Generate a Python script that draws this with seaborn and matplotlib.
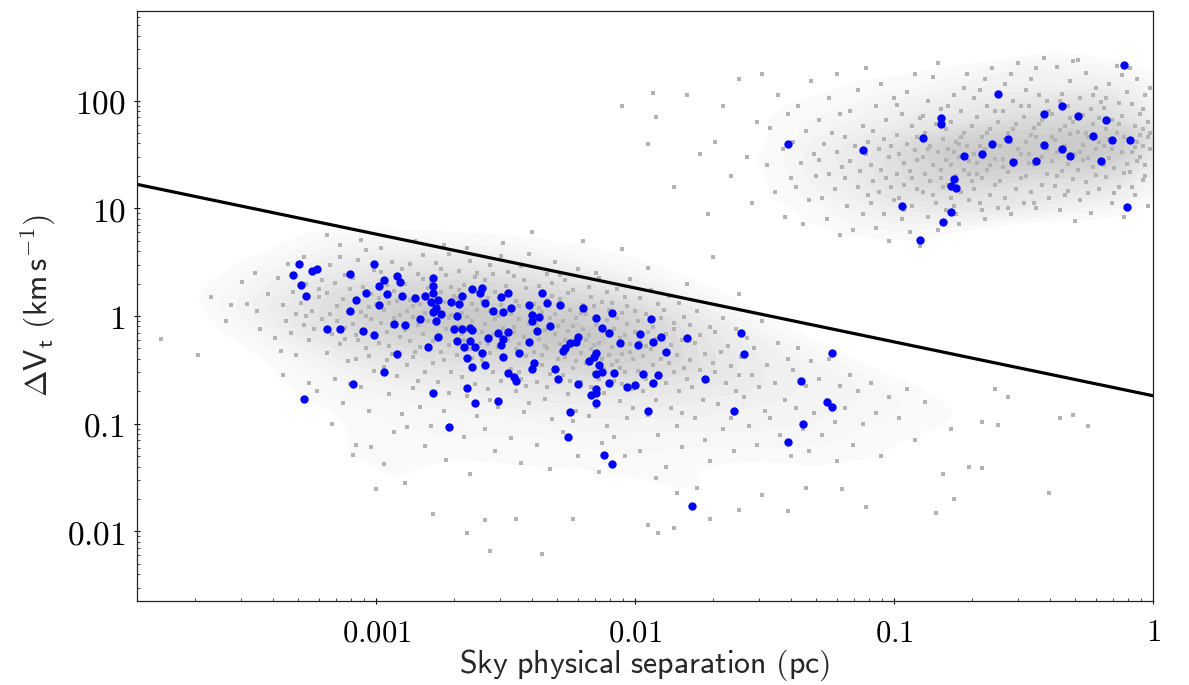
import numpy as np
import pandas as pd
import matplotlib
matplotlib.use("Agg")
import matplotlib.pyplot as plt
from matplotlib.colors import LinearSegmentedColormap
from matplotlib.ticker import FixedLocator, FixedFormatter, LogLocator, NullFormatter
import seaborn as sns

sns.set_theme(style="ticks")
plt.rcParams["mathtext.fontset"] = "cm"
plt.rcParams["font.family"] = ["DejaVu Sans"]

# all values, stored as log10(separation / pc), log10(dV_t / km s^-1)
blue_pts = """
-3.30,0.48 -3.32,0.38 -3.29,0.29 -3.25,0.42 -3.23,0.44 -3.27,0.19 -3.10,0.39 -3.01,0.48
-2.99,0.28 -2.97,0.33 -3.04,0.21 -3.08,0.15 -2.96,0.20 -3.10,0.05 -2.99,0.10 -2.92,0.37
-2.91,0.32 -2.93,-0.07 -3.19,-0.12 -3.14,-0.12 -3.05,-0.14 -3.01,-0.18 -2.92,-0.35 -2.97,-0.52
-3.09,-0.63 -3.28,-0.77 -2.90,0.19 -2.89,-0.08 -2.85,0.17 -2.83,-0.03 -2.81,0.19 -2.78,0.35
-2.78,0.28 -2.78,0.21 -2.79,0.13 -2.76,0.15 -2.77,0.07 -2.78,0.04 -2.75,0.02 -2.77,-0.05
-2.76,-0.19 -2.80,-0.29 -2.78,-0.71 -2.72,-1.03 -2.71,0.13 -2.68,0.11 -2.67,0.19 -2.63,0.25
-2.69,0.00 -2.70,-0.12 -2.67,-0.12 -2.64,-0.11 -2.63,-0.13 -2.69,-0.23 -2.64,-0.23 -2.66,-0.29
-2.62,-0.29 -2.65,-0.39 -2.63,-0.47 -2.65,-0.67 -2.62,-0.81 -2.59,0.26 -2.60,0.21 -2.58,0.12
-2.55,0.05 -2.52,0.18 -2.49,0.21 -2.51,0.04 -2.48,0.07 -2.53,-0.16 -2.49,-0.15 -2.57,-0.20
-2.51,-0.21 -2.52,-0.27 -2.59,-0.34 -2.58,-0.45 -2.51,-0.38 -2.45,-0.34 -2.49,-0.53 -2.47,-0.57
-2.46,-0.60 -2.53,-0.79 -2.36,0.21 -2.34,0.12 -2.41,0.10 -2.29,0.10 -2.40,0.01 -2.37,-0.01
-2.40,-0.05 -2.33,-0.09 -2.38,-0.14 -2.41,-0.24 -2.39,-0.44 -2.40,-0.49 -2.31,-0.49 -2.30,-0.58
-2.22,-0.19 -2.23,-0.24 -2.25,-0.25 -2.27,-0.30 -2.28,-0.32 -2.20,0.07 -2.15,-0.02 -2.13,-0.11
-2.10,-0.16 -2.09,0.03 -2.15,-0.34 -2.16,-0.38 -2.18,-0.42 -2.14,-0.45 -2.13,-0.52 -2.15,-0.54
-2.08,-0.53 -2.10,-0.62 -2.22,-0.63 -2.15,-0.68 -2.17,-0.73 -2.15,-0.71 -2.15,-0.81 -2.25,-0.89
-2.26,-1.12 -2.06,-0.25 -1.94,-0.03 -1.98,-0.17 -1.99,-0.27 -1.93,-0.24 -1.90,-0.19 -1.88,-0.33
-1.97,-0.54 -1.91,-0.55 -1.93,-0.62 -2.03,-0.66 -2.00,-0.64 -1.95,-0.88 -1.80,-0.20 -1.73,-0.58
-1.59,-0.16 -1.58,-0.35 -1.62,-0.88 -1.78,-1.76 -1.24,-0.34 -1.36,-0.60 -1.26,-0.80 -1.24,-0.84
-1.35,-1.00 -1.41,-1.17 -2.12,-1.29 -2.09,-1.37
-1.41,1.60 -1.12,1.54 -0.97,1.02 -0.90,0.71 -0.81,0.87 -0.78,0.97 -0.77,1.27 -0.78,1.21
-0.76,1.19 -0.89,1.65 -0.82,1.84 -0.82,1.78 -0.73,1.49 -0.66,1.50 -0.62,1.60 -0.60,2.06
-0.56,1.64 -0.54,1.43 -0.45,1.44 -0.42,1.59 -0.42,1.88 -0.35,1.95 -0.35,1.55 -0.32,1.49
-0.29,1.86 -0.23,1.67 -0.20,1.44 -0.18,1.82 -0.16,1.63 -0.11,2.33 -0.09,1.63 -0.10,1.01
"""

grey_low_pts = """
-3.83,-0.21 -3.69,-0.36 -3.64,0.18 -3.56,0.10 -3.50,0.11 -3.47,0.40 -3.42,0.20 -3.39,-0.20
-3.33,-0.16 -3.19,0.75 -3.58,-0.05 -3.52,0.32 -3.45,-0.12 -3.46,0.05 -3.23,-0.70 -3.31,-0.36
-3.38,0.35 -3.36,0.10 -3.35,-0.05 -3.37,-0.32 -3.32,0.22 -3.34,0.48 -3.31,0.02 -3.36,-0.55
-3.29,0.12 -3.28,-0.08 -3.27,0.30 -3.26,-0.22 -3.25,0.05 -3.24,0.41 -3.22,0.18 -3.21,-0.03
-3.28,0.55 -3.26,-0.62 -3.24,-0.12 -3.22,0.25 -3.27,0.00 -3.21,0.33
-3.19,0.21 -3.19,-0.34 -3.18,0.02 -3.18,0.47 -3.17,-0.17 -3.16,0.31 -3.16,-0.58 -3.15,0.09
-3.15,-0.05 -3.14,0.55 -3.14,-0.26 -3.13,0.16 -3.13,-0.81 -3.12,-0.11 -3.12,0.38 -3.11,-0.42
-3.11,0.04 -3.10,0.25 -3.17,-1.00 -3.14,0.66 -3.12,-0.21 -3.10,-0.63
-3.09,-0.07 -3.09,0.35 -3.08,-0.40 -3.08,0.13 -3.07,0.52 -3.07,-0.22 -3.06,0.04 -3.06,-0.66
-3.05,0.27 -3.05,-0.13 -3.04,0.61 -3.04,-0.30 -3.03,0.08 -3.03,-0.88 -3.02,0.20 -3.02,-0.03
-3.01,0.43 -3.01,-0.51 -3.00,0.11 -3.09,-1.29 -3.02,-1.22 -3.08,-0.18 -3.06,0.71 -3.04,0.00
-3.03,-0.37 -3.08,-1.20
-2.99,0.17 -2.99,-0.25 -2.98,0.41 -2.98,-0.06 -2.97,-0.47 -2.97,0.06 -2.96,0.29 -2.96,-0.15
-2.95,-0.72 -2.95,0.12 -2.94,0.50 -2.94,-0.35 -2.93,-0.02 -2.93,0.23 -2.92,-0.56 -2.92,0.36
-2.91,-0.19 -2.91,0.01 -2.90,-0.91 -3.00,-1.61 -2.97,-1.37 -2.98,0.63 -2.96,-0.41 -2.94,-0.09
-2.93,-1.08 -2.92,0.14 -2.90,0.44 -2.95,-0.28
-2.89,-0.13 -2.89,0.30 -2.88,-0.45 -2.88,0.05 -2.87,0.48 -2.87,-0.23 -2.86,-0.01 -2.86,-0.67
-2.85,0.19 -2.85,-0.33 -2.84,0.39 -2.84,-0.08 -2.83,-0.84 -2.83,0.11 -2.82,-0.17 -2.82,0.57
-2.81,-0.52 -2.81,0.03 -2.80,0.26 -2.89,-1.55 -2.88,-1.03 -2.87,0.15 -2.86,-0.38 -2.85,0.70
-2.84,-0.60 -2.83,-0.29 -2.82,0.34 -2.81,-1.21 -2.80,-0.05 -2.86,0.09
-2.79,0.31 -2.78,-0.44 -2.78,0.07 -2.77,-0.19 -2.77,0.49 -2.76,-0.03 -2.76,-0.61 -2.75,0.22
-2.75,-0.33 -2.74,0.13 -2.74,-0.88 -2.73,0.38 -2.73,-0.12 -2.72,-0.27 -2.72,0.58 -2.71,0.01
-2.71,-0.52 -2.70,0.19 -2.79,-1.02 -2.77,-0.07 -2.75,0.44 -2.74,-0.41 -2.72,-0.71 -2.71,0.27
-2.76,0.09 -2.73,-1.34 -2.78,-0.23 -2.70,-0.15 -2.74,0.66 -2.72,-0.02
-2.69,-0.36 -2.69,0.17 -2.68,-0.09 -2.68,0.42 -2.67,-0.57 -2.67,0.03 -2.66,-0.22 -2.66,0.29
-2.65,-0.74 -2.65,-0.01 -2.64,0.51 -2.64,-0.31 -2.63,0.11 -2.63,-0.46 -2.62,-0.14 -2.62,0.36
-2.61,-0.93 -2.61,0.06 -2.60,-0.25 -2.68,0.24 -2.66,-1.12 -2.65,0.63 -2.63,-0.05 -2.62,-0.63
-2.60,0.19 -2.67,-0.17 -2.64,-1.47 -2.61,0.40 -2.69,0.02 -2.63,-0.39
-2.59,0.14 -2.59,-0.41 -2.58,-0.07 -2.58,0.33 -2.57,-0.26 -2.57,-0.68 -2.56,0.05 -2.56,0.47
-2.55,-0.18 -2.55,-0.52 -2.54,0.22 -2.54,-0.03 -2.53,-0.84 -2.53,-0.29 -2.52,0.10 -2.52,0.56
-2.51,-0.40 -2.51,-0.11 -2.50,0.28 -2.58,-1.05 -2.56,-0.34 -2.55,0.39 -2.53,0.00 -2.52,-0.60
-2.50,-0.20 -2.57,0.17 -2.54,-1.25 -2.51,0.68 -2.59,-0.15 -2.56,-0.78
-2.49,-0.22 -2.49,0.20 -2.48,-0.49 -2.48,0.02 -2.47,-0.10 -2.47,0.37 -2.46,-0.70 -2.46,-0.31
-2.45,0.09 -2.45,-0.03 -2.44,-0.58 -2.44,0.46 -2.43,-0.19 -2.43,-0.89 -2.42,0.26 -2.42,-0.37
-2.41,-0.07 -2.41,0.58 -2.40,-0.45 -2.48,-1.13 -2.46,0.14 -2.45,-0.26 -2.43,0.33 -2.42,-0.65
-2.40,0.04 -2.47,-0.15 -2.44,-1.36 -2.41,-0.81 -2.49,0.41 -2.45,-0.52
-2.39,0.11 -2.39,-0.33 -2.38,-0.08 -2.38,-0.61 -2.37,0.28 -2.37,-0.21 -2.36,-0.45 -2.36,0.04
-2.35,-0.77 -2.35,-0.13 -2.34,0.39 -2.34,-0.30 -2.33,-0.02 -2.33,-0.54 -2.32,0.19 -2.32,-0.96
-2.31,-0.17 -2.31,0.50 -2.30,-0.40 -2.38,-1.20 -2.37,0.07 -2.35,-0.28 -2.34,-0.66 -2.32,0.31
-2.30,-0.09 -2.36,-0.36 -2.33,-1.42 -2.31,0.02 -2.39,-0.50 -2.34,0.15
-2.29,-0.26 -2.29,0.16 -2.28,-0.55 -2.28,-0.05 -2.27,0.33 -2.27,-0.38 -2.26,-0.14 -2.26,-0.72
-2.25,0.06 -2.25,-0.29 -2.24,-0.48 -2.24,0.24 -2.23,-0.02 -2.23,-0.88 -2.22,-0.19 -2.22,0.44
-2.21,-0.61 -2.21,-0.34 -2.20,0.10 -2.28,-1.08 -2.27,-0.22 -2.26,0.21 -2.24,-0.97 -2.23,-0.42
-2.21,0.03 -2.25,-0.60 -2.22,-1.30 -2.20,-0.12 -2.29,0.38 -2.24,-0.09
-2.19,0.02 -2.19,-0.44 -2.18,-0.18 -2.18,0.27 -2.17,-0.66 -2.17,-0.31 -2.16,0.09 -2.16,-0.53
-2.15,-0.08 -2.15,-0.84 -2.14,0.35 -2.14,-0.25 -2.13,-0.40 -2.13,0.13 -2.12,-0.71 -2.12,-0.14
-2.11,0.22 -2.11,-1.02 -2.10,-0.36 -2.18,-0.93 -2.17,0.18 -2.16,-0.27 -2.14,-0.58 -2.13,-1.18
-2.11,-0.04 -2.15,0.40 -2.12,-0.49 -2.10,0.06 -2.19,-0.22 -2.14,-1.45
-2.09,-0.29 -2.09,0.12 -2.08,-0.60 -2.08,-0.12 -2.07,0.25 -2.07,-0.42 -2.06,-0.20 -2.06,-0.79
-2.05,0.03 -2.05,-0.35 -2.04,-0.52 -2.04,0.18 -2.03,-0.07 -2.03,-0.95 -2.02,-0.26 -2.02,0.34
-2.01,-0.68 -2.01,-0.40 -2.00,-0.15 -2.08,-1.12 -2.07,-0.02 -2.06,-0.48 -2.04,-1.30 -2.03,0.09
-2.01,-0.85 -2.05,-0.63 -2.02,-0.33 -2.00,0.05 -2.09,-0.45 -2.04,-0.18
-1.99,-0.05 -1.99,-0.51 -1.98,-0.24 -1.98,0.17 -1.97,-0.70 -1.97,-0.37 -1.96,0.02 -1.96,-0.58
-1.95,-0.15 -1.95,-0.92 -1.94,0.24 -1.94,-0.31 -1.93,-0.45 -1.93,-0.10 -1.92,-0.78 -1.92,-0.21
-1.91,0.11 -1.91,-1.10 -1.90,-0.40 -1.98,-1.25 -1.96,-0.28 -1.94,-0.63 -1.92,-1.50 -1.90,-0.02
-1.89,-0.33 -1.89,0.06 -1.88,-0.62 -1.88,-0.17 -1.87,-0.44 -1.87,0.19 -1.86,-0.27 -1.86,-0.85
-1.85,-0.06 -1.85,-0.52 -1.84,-1.02 -1.84,-0.36 -1.83,0.12 -1.83,-0.70 -1.82,-0.22 -1.82,-1.22
-1.81,-0.48 -1.81,-0.01 -1.80,-0.58 -1.88,-1.40 -1.85,-0.12 -1.82,-0.90
-1.79,-0.41 -1.79,-0.08 -1.78,-0.66 -1.77,-0.25 -1.77,-0.95 -1.76,0.05 -1.75,-0.50 -1.75,-0.18
-1.74,-0.78 -1.73,-0.35 -1.73,-1.15 -1.72,-0.60 -1.71,-0.10 -1.71,-1.35 -1.70,-0.44 -1.76,-1.60
-1.69,-0.52 -1.69,-0.15 -1.68,-0.82 -1.67,-0.33 -1.66,-1.05 -1.66,-0.02 -1.65,-0.62 -1.64,-0.28
-1.63,-0.95 -1.63,-0.46 -1.62,-1.25 -1.61,-0.70 -1.61,-0.12 -1.60,-0.55
-1.59,-0.38 -1.58,-0.75 -1.57,-0.20 -1.56,-1.02 -1.55,-0.55 -1.54,-0.30 -1.53,-1.20 -1.52,-0.66
-1.51,-0.05 -1.50,-0.88 -1.49,-0.45 -1.48,-0.95 -1.46,-0.62 -1.45,-0.25 -1.44,-1.10 -1.42,-0.78
-1.41,-0.40 -1.40,-1.30 -1.39,-0.50 -1.38,-0.85 -1.37,-0.30 -1.35,-1.05 -1.34,-0.65 -1.33,-1.25
-1.32,-0.42 -1.31,-0.90 -1.29,-0.58 -1.28,-1.10 -1.26,-0.78 -1.25,-0.40 -1.23,-0.98 -1.22,-1.35
-1.21,-0.65 -1.19,-0.85 -1.17,-0.55 -1.16,-1.20 -1.14,-0.70 -1.12,-1.00 -1.11,-1.77 -1.09,-0.62
-1.07,-0.90 -1.05,-1.30 -1.02,-0.75 -0.98,-0.95 -0.95,-0.68 -0.92,-1.15 -0.88,-0.80 -0.84,-1.83
-0.81,-1.47 -0.78,-1.05 -0.77,-1.70 -0.71,-1.40 -0.66,-1.41 -0.66,-0.98 -0.61,-0.68 -0.60,-1.01
-0.56,-0.75 -0.40,-1.64 -0.36,-0.95 -0.31,-0.92 -0.25,-1.02
-2.78,-1.84 -2.65,-2.01 -2.56,-2.18 -2.36,-2.21 -2.89,-1.55 -2.46,-1.88 -2.58,-1.89 -2.24,-1.88
-1.95,-1.94 -1.91,-2.01 -1.85,-1.97 -1.84,-1.64 -1.71,-1.88 -1.60,-1.80 -1.51,-1.66 -1.41,-1.81
-1.34,-1.60 -1.20,-1.61 -2.20,0.70 -2.05,0.62 -1.95,0.45 -1.80,0.30 -2.40,0.78 -1.70,0.55
-1.60,0.20
"""

grey_high_pts = """
-2.05,1.95 -1.95,1.60 -1.93,2.07 -1.92,1.85 -1.85,1.20 -1.80,2.05 -1.75,1.50 -1.72,0.95
-1.69,1.62 -1.66,1.95 -1.63,1.30 -1.60,2.20 -1.57,1.48 -1.55,1.05 -1.53,1.80 -1.51,2.25
-1.49,1.40 -1.48,1.75 -1.46,1.15 -1.45,2.05 -1.43,1.55 -1.42,0.92 -1.41,1.88 -1.40,1.28
-1.39,1.62 -1.38,1.20 -1.37,1.95 -1.36,1.42 -1.35,0.85 -1.34,1.72 -1.33,1.08 -1.32,2.18
-1.31,1.50 -1.30,1.30
-1.29,1.45 -1.29,1.82 -1.28,1.10 -1.27,1.60 -1.26,0.90 -1.25,2.02 -1.25,1.32 -1.24,1.70
-1.23,1.18 -1.22,1.52 -1.22,2.25 -1.21,0.75 -1.20,1.38 -1.21,1.88
-1.19,1.28 -1.19,1.66 -1.18,1.02 -1.17,1.90 -1.17,1.44 -1.16,0.80 -1.15,1.58 -1.14,1.20
-1.14,2.10 -1.13,1.35 -1.12,1.76 -1.12,0.95 -1.11,1.50 -1.10,1.12 -1.11,2.30 -1.10,1.62
-1.09,1.40 -1.09,1.05 -1.08,1.72 -1.08,1.25 -1.07,1.95 -1.07,0.82 -1.06,1.55 -1.06,1.15
-1.05,1.36 -1.05,2.15 -1.04,0.95 -1.04,1.64 -1.03,1.28 -1.03,1.82 -1.02,1.48 -1.02,0.70
-1.01,1.20 -1.01,1.58 -1.00,2.02 -1.00,1.08
-0.99,1.32 -0.99,1.68 -0.98,1.10 -0.98,1.50 -0.97,1.88 -0.97,0.90 -0.96,1.42 -0.96,1.22
-0.95,2.08 -0.95,1.60 -0.94,0.78 -0.94,1.35 -0.93,1.76 -0.93,1.02 -0.92,1.54 -0.92,2.25
-0.91,1.18 -0.91,1.45 -0.90,0.65 -0.90,1.84 -0.99,1.96 -0.96,0.98 -0.93,1.28 -0.91,1.66
-0.89,1.48 -0.89,1.15 -0.88,1.70 -0.88,1.32 -0.87,2.00 -0.87,0.92 -0.86,1.58 -0.86,1.25
-0.85,1.40 -0.85,2.22 -0.84,1.05 -0.84,1.78 -0.83,1.52 -0.83,0.80 -0.82,1.36 -0.82,1.92
-0.81,1.20 -0.81,1.64 -0.80,1.45 -0.80,0.98 -0.89,1.86 -0.87,1.55 -0.85,1.12 -0.83,2.35
-0.82,1.28 -0.80,1.74
-0.79,1.55 -0.79,1.22 -0.78,1.80 -0.78,1.40 -0.77,2.05 -0.77,1.02 -0.76,1.62 -0.76,1.30
-0.75,1.48 -0.75,0.85 -0.74,1.90 -0.74,1.15 -0.73,1.70 -0.73,1.36 -0.72,2.25 -0.72,1.58
-0.71,1.08 -0.71,1.44 -0.70,1.76 -0.70,1.25 -0.79,1.95 -0.77,1.52 -0.76,0.95 -0.74,1.66
-0.73,2.12 -0.71,1.32 -0.78,1.10 -0.75,1.60
-0.69,1.50 -0.69,1.18 -0.68,1.85 -0.68,1.42 -0.67,2.10 -0.67,1.05 -0.66,1.66 -0.66,1.28
-0.65,1.55 -0.65,0.90 -0.64,1.95 -0.64,1.36 -0.63,1.74 -0.63,1.12 -0.62,2.30 -0.62,1.60
-0.61,1.22 -0.61,1.46 -0.60,1.80 -0.60,1.00 -0.69,2.02 -0.67,1.58 -0.66,0.98 -0.64,1.70
-0.63,1.40 -0.61,1.90 -0.68,1.32 -0.65,2.20
-0.59,1.58 -0.59,1.25 -0.58,1.90 -0.58,1.46 -0.57,2.15 -0.57,1.10 -0.56,1.70 -0.56,1.34
-0.55,1.62 -0.55,0.95 -0.54,2.00 -0.54,1.40 -0.53,1.78 -0.53,1.18 -0.52,2.35 -0.52,1.55
-0.51,1.28 -0.51,1.50 -0.50,1.85 -0.50,1.05 -0.59,2.05 -0.57,1.64 -0.56,1.00 -0.54,1.74
-0.53,1.44 -0.51,1.95 -0.58,1.38 -0.55,2.25
-0.49,1.62 -0.49,1.30 -0.48,1.95 -0.48,1.50 -0.47,2.20 -0.47,1.15 -0.46,1.75 -0.46,1.40
-0.45,1.66 -0.45,1.00 -0.44,2.05 -0.44,1.45 -0.43,1.82 -0.43,1.22 -0.42,2.40 -0.42,1.58
-0.41,1.32 -0.41,1.55 -0.40,1.90 -0.40,1.10 -0.49,2.10 -0.47,1.68 -0.46,1.05 -0.44,1.78
-0.43,1.48 -0.41,2.00 -0.48,1.42 -0.45,2.30
-0.39,1.44 -0.39,1.88 -0.38,1.21 -0.38,1.63 -0.37,2.31 -0.37,1.52 -0.36,0.98 -0.36,1.73
-0.35,1.35 -0.35,2.06 -0.34,1.58 -0.34,1.12 -0.33,1.95 -0.33,1.41 -0.32,1.69 -0.32,2.18
-0.31,1.27 -0.31,1.80 -0.30,1.50 -0.30,0.88 -0.39,1.66 -0.37,1.30 -0.36,2.00 -0.35,1.55
-0.33,1.16 -0.32,1.84 -0.31,2.37 -0.34,1.76
-0.29,1.71 -0.29,1.36 -0.28,2.02 -0.28,1.08 -0.27,1.59 -0.27,1.87 -0.26,1.24 -0.26,2.26
-0.25,1.47 -0.25,1.66 -0.24,0.96 -0.24,1.92 -0.23,1.38 -0.23,1.78 -0.22,1.55 -0.22,2.12
-0.21,1.18 -0.21,1.62 -0.20,1.99 -0.20,1.42 -0.29,2.38 -0.28,1.52 -0.26,1.70 -0.25,1.14
-0.23,2.05 -0.22,1.31 -0.21,1.84 -0.27,1.45
-0.19,1.58 -0.19,1.93 -0.18,1.29 -0.18,1.74 -0.17,2.15 -0.17,1.47 -0.16,1.05 -0.16,1.82
-0.15,1.62 -0.15,1.37 -0.14,2.32 -0.14,1.70 -0.13,1.20 -0.13,1.98 -0.12,1.52 -0.12,1.86
-0.11,0.92 -0.11,1.66 -0.10,1.41 -0.10,2.08 -0.19,1.40 -0.18,2.02 -0.16,1.55 -0.15,1.14
-0.13,1.78 -0.12,2.24 -0.11,1.33 -0.17,1.64
-0.09,1.63 -0.09,1.34 -0.08,1.97 -0.08,1.52 -0.07,1.76 -0.07,1.12 -0.06,2.20 -0.06,1.44
-0.05,1.68 -0.05,1.88 -0.04,1.26 -0.04,1.58 -0.03,2.05 -0.03,1.40 -0.02,1.80 -0.02,1.02
-0.01,1.55 -0.01,1.70 -0.09,2.30 -0.08,1.20 -0.06,1.62 -0.05,1.48 -0.04,1.92 -0.03,1.30
-0.02,1.66 -0.01,2.12 -0.07,1.57 -0.04,1.74
"""

# dividing line, end points read at the frame edges
line_sep = [1.19e-4, 1.0]
line_dv = [16.7, 0.182]

x_ticks = [0.001, 0.01, 0.1, 1]
x_labels = ["0.001", "0.01", "0.1", "1"]
y_ticks = [0.01, 0.1, 1, 10, 100]
y_labels = ["0.01", "0.1", "1", "10", "100"]


def to_frame(txt):
    a = np.array(txt.replace(",", " ").split(), dtype=float).reshape(-1, 2)
    return pd.DataFrame({"sep": 10 ** a[:, 0], "dv": 10 ** a[:, 1]})


blue = to_frame(blue_pts)
low = to_frame(grey_low_pts)
high = to_frame(grey_high_pts)

fig = plt.figure(figsize=(11.89, 6.85), dpi=100)
ax = fig.add_axes([0.1152, 0.1226, 0.8545, 0.8613])
ax.set_xscale("log")
ax.set_yscale("log")

# soft grey shading under the dense part of each cloud, fading out at the rim
haze = LinearSegmentedColormap.from_list("haze", ["#fcfcfc", "#e6e6e6", "#c9c9c9"])
for cloud in (low, high):
    sns.kdeplot(data=cloud, x="sep", y="dv", fill=True, levels=14, thresh=0.12,
                cmap=haze, bw_adjust=0.75, log_scale=True, ax=ax, zorder=0)

sns.scatterplot(data=pd.concat([low, high]), x="sep", y="dv", color="#b3b3b3",
                marker="s", s=6, linewidth=0, ax=ax, zorder=1)
sns.lineplot(x=line_sep, y=line_dv, color="black", linewidth=2.3, ax=ax, zorder=2)
sns.scatterplot(data=blue, x="sep", y="dv", color="#0000ff", s=36, linewidth=0,
                ax=ax, zorder=3)

ax.set_xlim(1.19e-4, 1.0)
ax.set_ylim(0.00226, 679)

ax.xaxis.set_major_locator(FixedLocator(x_ticks))
ax.xaxis.set_major_formatter(FixedFormatter(["$%s$" % t for t in x_labels]))
ax.yaxis.set_major_locator(FixedLocator(y_ticks))
ax.yaxis.set_major_formatter(FixedFormatter(["$%s$" % t for t in y_labels]))
for axis in (ax.xaxis, ax.yaxis):
    axis.set_minor_locator(LogLocator(base=10, subs=np.arange(2, 10), numticks=30))
    axis.set_minor_formatter(NullFormatter())

ax.tick_params(which="major", direction="inout", length=4.5, width=0.8,
               pad=6, colors="black")
ax.tick_params(which="minor", direction="in", length=2.5, width=0.6)
ax.tick_params(axis="x", labelsize=22, pad=10)
ax.tick_params(axis="y", labelsize=24)
for sp in ax.spines.values():
    sp.set_visible(True)
    sp.set_linewidth(0.9)
    sp.set_color("#222222")

ax.set_xlabel(r"$\mathsf{Sky\ physical\ separation\ (pc)}$", fontsize=23, labelpad=0)
ax.set_ylabel(r"$\mathsf{\Delta V_t\ (km\,s^{-1})}$", fontsize=23, labelpad=6)
ax.grid(False)

fig.savefig("out.png", dpi=100)
